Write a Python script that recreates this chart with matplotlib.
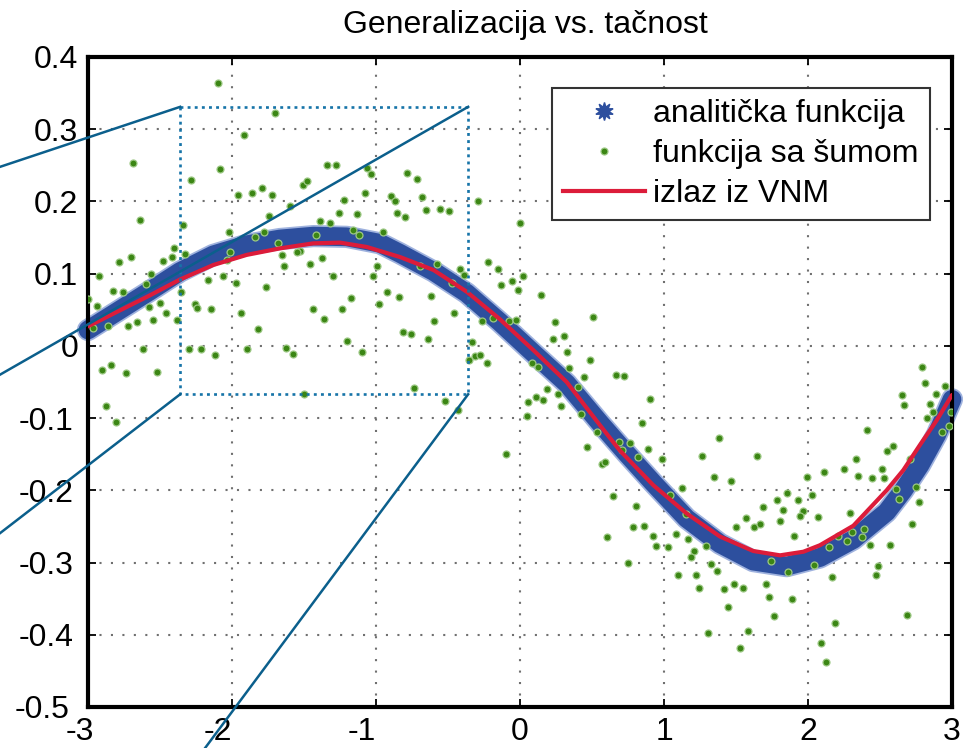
import matplotlib
matplotlib.use('Agg')
import matplotlib.pyplot as plt
import matplotlib.transforms as mtransforms
from matplotlib.lines import Line2D

plt.rcParams['font.family'] = ['Liberation Sans', 'DejaVu Sans']
plt.rcParams['axes.unicode_minus'] = False

# ---------------- data ----------------
curve_x = [-3.0, -2.57, -2.36, -2.13, -1.898, -1.667, -1.435, -1.204, -0.972, -0.833, -0.60, -0.37,
           -0.14, 0.093, 0.324, 0.556, 0.74, 0.926, 1.157, 1.389, 1.62, 1.852, 2.083, 2.315, 2.546,
           2.662, 2.778, 2.894, 3.0]
curve_y = [0.022, 0.076, 0.103, 0.126, 0.140, 0.148, 0.152, 0.151, 0.142, 0.128, 0.103, 0.073,
           0.033, -0.010, -0.052, -0.107, -0.149, -0.190, -0.239, -0.274, -0.298, -0.305, -0.293,
           -0.268, -0.230, -0.200, -0.165, -0.123, -0.074]

net_x = [-3.0, -2.57, -2.36, -2.13, -1.898, -1.667, -1.435, -1.25, -1.065, -0.833, -0.60, -0.37,
         -0.14, 0.093, 0.324, 0.556, 0.694, 0.926, 1.157, 1.389, 1.62, 1.806, 1.968, 2.083, 2.315,
         2.546, 2.662, 2.778, 2.894, 3.0]
net_y = [0.027, 0.070, 0.092, 0.112, 0.126, 0.135, 0.142, 0.143, 0.137, 0.123, 0.105, 0.075,
         0.037, -0.006, -0.050, -0.110, -0.145, -0.193, -0.232, -0.264, -0.284, -0.290, -0.285,
         -0.276, -0.249, -0.200, -0.172, -0.137, -0.103, -0.068]

noise_xy = [
    (-2.095, 0.364), (-1.70, 0.323), (-1.92, 0.292), (-2.685, 0.253), (-2.08, 0.245), (-2.285, 0.229),
    (-1.343, 0.251), (-2.64, 0.174), (-2.34, 0.168), (-1.96, 0.209), (-1.86, 0.211), (-1.79, 0.218),
    (-1.72, 0.209), (-1.505, 0.223), (-1.48, 0.228), (-1.60, 0.194), (-1.74, 0.180), (-1.39, 0.173),
    (-1.32, 0.170), (-2.02, 0.157), (-1.84, 0.151), (-1.78, 0.158), (-1.68, 0.142), (-2.40, 0.136),
    (-1.42, 0.153),
    (-1.278, 0.251), (-1.065, 0.246), (-1.037, 0.238), (-0.782, 0.239), (-0.713, 0.231), (-1.076, 0.212),
    (-1.22, 0.202), (-0.898, 0.208), (-0.868, 0.200), (-0.678, 0.206), (-0.655, 0.188), (-0.556, 0.190),
    (-0.493, 0.187), (-0.294, 0.200), (-1.257, 0.184), (-1.132, 0.183), (-0.852, 0.184), (-0.80, 0.178),
    (0.0, 0.170), (-1.158, 0.161), (-1.116, 0.154), (-0.949, 0.158),
    (-1.458, 0.113), (-1.377, 0.121), (-1.301, 0.097), (-1.174, 0.066), (-1.44, 0.051), (-1.238, 0.051),
    (-1.359, 0.037), (-1.019, 0.097), (-0.995, 0.110), (-0.921, 0.074), (-0.979, 0.058), (-0.838, 0.068),
    (-0.618, 0.069), (-0.595, 0.035), (-0.456, 0.045), (-0.815, 0.019), (-0.757, 0.017), (-0.637, 0.009),
    (-1.204, 0.007), (-1.099, -0.008), (-0.694, 0.110), (-0.574, 0.114), (-0.417, 0.106), (-0.387, 0.098),
    (-0.474, 0.087), (-0.22, 0.116), (-0.155, 0.106), (-0.132, 0.084), (-0.053, 0.090), (-0.016, 0.077),
    (0.019, 0.097), (0.144, 0.070), (-0.262, 0.034), (-0.19, 0.038), (-0.076, 0.034), (-0.03, 0.036),
    (0.243, 0.033), (0.227, 0.009), (0.308, 0.013), (0.505, 0.040), (-0.336, 0.005), (-0.312, -0.014),
    (-0.278, -0.013), (-0.354, -0.020), (-0.231, -0.024), (0.324, -0.008), (0.486, -0.020), (0.343, -0.031),
    (0.444, -0.043), (0.665, -0.040), (0.722, -0.041), (0.086, -0.024), (0.123, -0.029), (0.185, -0.060),
    (0.266, -0.066), (0.405, -0.057), (0.058, -0.077), (0.109, -0.071), (0.162, -0.075), (0.046, -0.097),
    (0.285, -0.083), (0.424, -0.094), (-0.734, -0.058), (-1.5, -0.067), (-0.521, -0.076), (-0.433, -0.089),
    (-0.097, -0.150), (0.463, -0.140), (0.567, -0.163), (0.590, -0.161), (0.532, -0.119), (0.6875, -0.133),
    (0.706, -0.144), (0.764, -0.135), (-1.528, 0.132),
    (-2.998, 0.065), (-2.921, 0.097), (-2.94, 0.055), (-2.824, 0.076), (-2.755, 0.074), (-2.782, 0.116),
    (-2.704, 0.123), (-2.5625, 0.100), (-2.60, 0.086), (-2.481, 0.118), (-2.419, 0.123), (-2.326, 0.127),
    (-2.5, 0.059), (-2.576, 0.054), (-2.461, 0.045), (-2.546, 0.036), (-2.662, 0.033), (-2.725, 0.028),
    (-2.859, 0.028), (-2.963, 0.025), (-2.384, 0.036), (-2.356, 0.075), (-2.257, 0.058), (-2.241, 0.053),
    (-2.148, 0.051), (-2.165, 0.091), (-2.06, 0.097), (-2.037, 0.119), (-2.014, 0.130), (-1.975, 0.087),
    (-1.9375, 0.045), (-1.822, 0.023), (-1.764, 0.081), (-1.655, 0.126), (-1.639, 0.111), (-1.551, 0.130),
    (-2.616, -0.004), (-2.299, -0.005), (-2.215, -0.004), (-2.118, -0.013), (-1.898, -0.004),
    (-1.625, -0.003), (-1.579, -0.011), (-2.84, -0.027), (-2.905, -0.034), (-2.738, -0.038),
    (-2.523, -0.036), (-2.877, -0.083), (-2.806, -0.105),
    (0.903, -0.074), (0.845, -0.107), (0.891, -0.143), (0.822, -0.154), (0.984, -0.156), (1.384, -0.128),
    (1.266, -0.153), (1.648, -0.153), (1.347, -0.181), (1.465, -0.187), (1.127, -0.197), (1.991, -0.182),
    (2.111, -0.174), (2.25, -0.171), (2.349, -0.180), (2.447, -0.183), (2.331, -0.156), (2.407, -0.116),
    (2.551, -0.145), (2.592, -0.139), (2.516, -0.171), (2.530, -0.183), (2.65, -0.068), (2.669, -0.082),
    (2.794, -0.029), (2.8125, -0.052), (2.951, -0.055), (2.889, -0.067), (2.847, -0.081), (2.870, -0.092),
    (2.829, -0.100), (2.99, -0.091), (2.933, -0.119), (2.979, -0.111), (2.708, -0.157), (2.748, -0.196),
    (2.611, -0.198),
    (0.644, -0.208), (0.606, -0.264), (0.752, -0.300),
    (0.806, -0.221), (0.787, -0.251), (0.863, -0.249), (0.926, -0.263), (0.942, -0.277), (1.030, -0.279),
    (1.083, -0.260), (1.169, -0.268), (1.208, -0.284), (1.185, -0.292), (1.292, -0.277), (1.042, -0.207),
    (1.099, -0.317), (1.222, -0.317), (1.243, -0.335), (1.326, -0.302), (1.366, -0.312), (1.419, -0.337),
    (1.486, -0.329), (1.551, -0.335), (1.447, -0.361), (1.308, -0.398), (1.585, -0.395), (1.528, -0.418),
    (1.5, -0.251), (1.569, -0.238), (1.625, -0.251), (1.667, -0.247), (1.69, -0.223), (1.787, -0.214),
    (1.829, -0.227), (1.806, -0.242), (1.852, -0.204), (1.928, -0.213), (2.025, -0.206), (1.968, -0.228),
    (1.944, -0.236), (2.072, -0.237), (1.903, -0.263), (1.741, -0.298), (1.708, -0.329), (1.729, -0.348),
    (1.887, -0.351), (1.764, -0.374), (1.863, -0.313), (2.044, -0.303), (2.164, -0.320), (2.1875, -0.383),
    (2.088, -0.411), (2.125, -0.438), (2.146, -0.278), (2.21, -0.263), (2.269, -0.270), (2.292, -0.232),
    (2.308, -0.257), (2.377, -0.265), (2.391, -0.253), (2.431, -0.275), (2.569, -0.275), (2.488, -0.305),
    (2.470, -0.317), (2.685, -0.372), (2.724, -0.247), (2.773, -0.216), (2.634, -0.212), (1.153, -0.233),
]
noise_x = [p[0] for p in noise_xy]
noise_y = [p[1] for p in noise_xy]

x_ticks = [-3, -2, -1, 0, 1, 2, 3]
x_tick_labels = ['-3', '-2', '-1', '0', '1', '2', '3']
y_ticks = [-0.5, -0.4, -0.3, -0.2, -0.1, 0.0, 0.1, 0.2, 0.3, 0.4]
y_tick_labels = ['-0.5', '-0.4', '-0.3', '-0.2', '-0.1', '0', '0.1', '0.2', '0.3', '0.4']

legend_labels = ['analitička funkcija', 'funkcija sa šumom', 'izlaz iz VNM']
title_text = 'Generalizacija vs. tačnost'

# zoom rectangle (data coords) and the connector lines going off to the left
box_x = [-2.36, -0.36]
box_y = [-0.067, 0.331]
link_start = [(-2.36, 0.331), (-0.36, 0.331), (-2.36, -0.067), (-0.36, -0.067)]
link_end = [(-3.70, 0.242), (-3.70, -0.050), (-3.70, -0.273), (-2.348, -0.600)]

# ---------------- figure ----------------
fig = plt.figure(figsize=(9.66, 7.48), dpi=100)
ax = fig.add_axes([88 / 966, 41 / 748, 864 / 966, 650 / 748])

BLUE = '#2d4f9e'
GREEN = '#3b8614'
RED = '#dc1c3a'
FS = 23

ax.plot(curve_x, curve_y, color='#9fb2de', lw=16, solid_capstyle='round',
        solid_joinstyle='round', clip_on=False, zorder=2)
ax.plot(curve_x, curve_y, color=BLUE, lw=13.5, solid_capstyle='round',
        solid_joinstyle='round', clip_on=False, zorder=2.1)
ax.plot(noise_x, noise_y, 'o', ms=5, mfc=GREEN, mec='#9cc884', mew=0.9, zorder=3)
ax.plot(net_x, net_y, color=RED, lw=3, solid_joinstyle='round', solid_capstyle='round', zorder=4)

# zoom box
bx = [box_x[0], box_x[1], box_x[1], box_x[0], box_x[0]]
by = [box_y[1], box_y[1], box_y[0], box_y[0], box_y[1]]
ax.plot(bx, by, linestyle=(0, (1.1, 1.6)), color='#1674a8', lw=1.9, zorder=5)
for (sx, sy), (ex, ey) in zip(link_start, link_end):
    ax.plot([sx, ex], [sy, ey], color='#0b5f8c', lw=1.8, clip_on=False, zorder=5)

ax.set_xlim(-3, 3)
ax.set_ylim(-0.5, 0.4)
ax.set_xticks(x_ticks)
ax.set_xticklabels(x_tick_labels)
ax.set_yticks(y_ticks)
ax.set_yticklabels(y_tick_labels)

ax.set_axisbelow(True)
ax.grid(True, linestyle=(0, (1, 4.5)), color='#707070', linewidth=1.5)

for s in ax.spines.values():
    s.set_linewidth(3)
    s.set_color('black')
ax.tick_params(direction='in', length=6, width=1.3, top=True, right=True,
               labelsize=FS, colors='black')
ax.tick_params(axis='x', pad=7.5)
ax.tick_params(axis='y', pad=7)

# MATLAB-like placement of negative tick labels (kept clear of each other in the corner)
for lab in ax.get_xticklabels():
    if lab.get_text().startswith('-'):
        lab.set_horizontalalignment('right')
    if lab.get_text() == '-3':
        lab.set_transform(lab.get_transform() +
                          mtransforms.ScaledTranslation(0.06, 0, fig.dpi_scale_trans))
for lab in ax.get_yticklabels():
    if lab.get_text().startswith('-'):
        dx = -0.09 if lab.get_text() == '-0.5' else -0.05
        lab.set_transform(lab.get_transform() +
                          mtransforms.ScaledTranslation(dx, 0, fig.dpi_scale_trans))

t = ax.set_title(title_text, fontsize=FS, pad=17)
t.set_x(0.5058)

handles = [
    Line2D([], [], linestyle='none', marker=(10, 1, 0), ms=13, color=BLUE, mec=BLUE),
    Line2D([], [], linestyle='none', marker='o', ms=5, mfc=GREEN, mec='#9cc884', mew=0.9),
    Line2D([], [], color=RED, lw=3),
]
leg = ax.legend(handles, legend_labels, loc='upper right', bbox_to_anchor=(0.9745, 0.952),
                borderaxespad=0, fontsize=FS, frameon=True, fancybox=False,
                edgecolor='#333333', framealpha=1, handlelength=2.57, handletextpad=0.25,
                labelspacing=0.31, borderpad=0.35)
leg.get_frame().set_linewidth(1.5)
leg.set_zorder(10)

fig.savefig('out.png', dpi=100)
